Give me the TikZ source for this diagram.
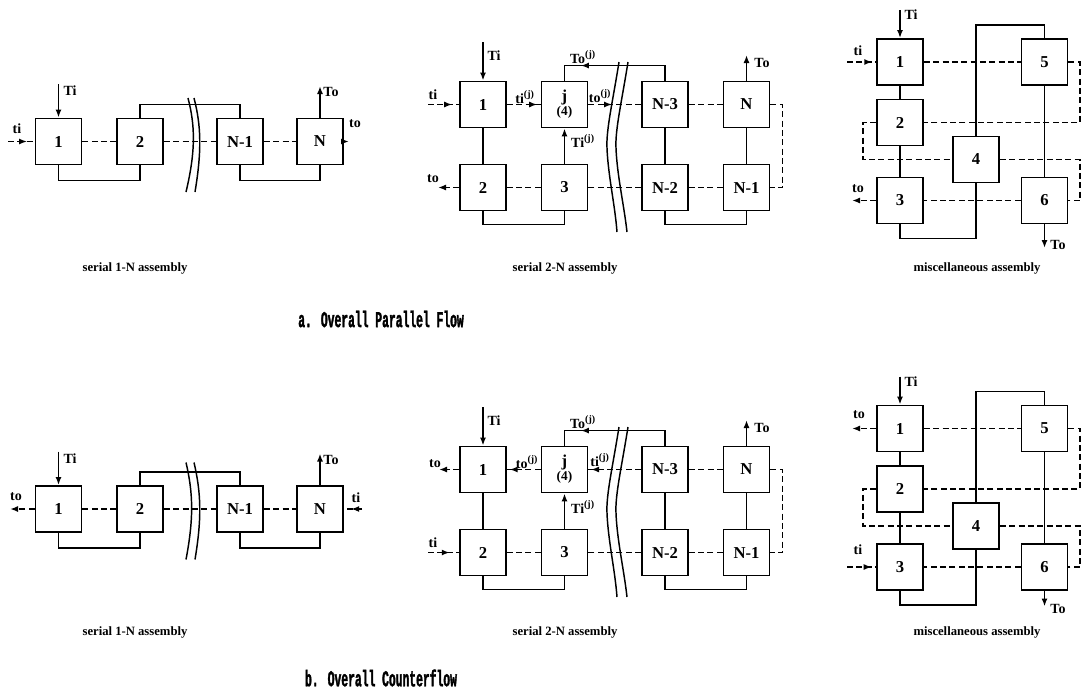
\documentclass[tikz,border=0pt]{standalone}
\usepackage{fontspec}
\setmainfont{Liberation Serif}
\newfontfamily\titlefont[FakeStretch=0.5,FakeBold=1.5]{Liberation Mono}
\usetikzlibrary{arrows.meta,decorations.markings}
\tikzset{
 box/.style={draw, line width=1.4pt, minimum width=34.5pt, minimum height=34.5pt, inner sep=0pt, align=center, font=\fontsize{12.5}{12.5}\selectfont\bfseries},
 sol/.style={line width=1.3pt},
 dsh/.style={line width=1.3pt, dash pattern=on 4.5pt off 2.5pt},
 tip/.style={-{Latex[length=6pt,width=4.5pt]}},
 markat/.style={postaction={decorate}, decoration={markings, mark=at position #1 with {\arrow{Latex[length=6pt,width=4.5pt]}}}},
 lab/.style={font=\fontsize{10.5}{10.5}\selectfont\bfseries, inner sep=0pt},
 captxt/.style={font=\fontsize{9.5}{10}\selectfont\bfseries},
 ttl/.style={font=\titlefont\bfseries\fontsize{17}{18}\selectfont, inner sep=0pt},
 brk/.style={line width=1.1pt},
}
\newcommand{\supj}[1]{\textbf{#1}\textsuperscript{\fontsize{7.5}{7.5}\selectfont(j)}}
\begin{document}
\begin{tikzpicture}[x=0.75pt,y=-0.75pt]
\useasboundingbox (0,0) rectangle (1082,693);

%%%%%%%%%%%%%%%%%%%% TOP ROW (a) %%%%%%%%%%%%%%%%%%%%
% ---- serial 1-N (a)
\node[box] (a1) at (58.5,141.5) {1};
\node[box] (a2) at (140,141.5) {2};
\node[box] (aN1) at (240,141.5) {N-1};
\node[box] (aN) at (320,141.5) {N};
\draw[dsh] (a1) -- (a2);
\draw[dsh] (a2) -- (aN1);
\draw[dsh] (aN1) -- (aN);
\draw[sol] (a1.south) -- ++(0,15) -| (a2.south);
\draw[sol] (a2.north) -- ++(0,-13) -| (aN1.north);
\draw[sol] (aN1.south) -- ++(0,15) -| (aN.south);
\draw[brk] (188,98) .. controls (195,125) and (196,150) .. (186,192);
\draw[brk] (194,98) .. controls (201,125) and (202,150) .. (195,192);
\coordinate (aTi) at (58.5,84);
\draw[sol,tip] (aTi) -- (a1.north);
\node[lab] at (70,91) {Ti};
\coordinate (aTo) at (320,86);
\draw[sol,tip] (aN.north) -- (aTo);
\node[lab] at (331,92) {To};
\coordinate (ati) at (8,141.5);
\draw[dsh,markat=0.72] (ati) -- (a1.west);
\node[lab] at (17,129) {ti};
\coordinate (ato) at (349,141.5);
\draw[dsh,tip] (aN.east) -- (ato);
\node[lab] at (355,124) {to};
\node[captxt] at (135,268) {serial 1-N assembly};

% ---- serial 2-N (a)
\node[box] (m1) at (483,104.5) {1};
\node[box] (mj) at (564.5,104.5) {j\\[-2pt]{\fontsize{10}{10}\selectfont(4)}};
\node[box] (mN3) at (665,104.5) {N-3};
\node[box] (mN) at (746.5,104.5) {N};
\node[box] (m2) at (483,187.5) {2};
\node[box] (m3) at (564.5,187.5) {3};
\node[box] (mN2) at (665,187.5) {N-2};
\node[box] (mN1) at (746.5,187.5) {N-1};
\draw[sol] (m1) -- (m2);
\draw[sol] (mN3) -- (mN2);
\draw[sol] (mN) -- (mN1);
\draw[sol,tip] (m3.north) -- (mj.south);
\draw[sol,markat=0.76] (mN3.north) -- ++(0,-15) -| (mj.north);
\draw[sol] (m2.south) -- ++(0,13) -| (m3.south);
\draw[sol] (mN2.south) -- ++(0,13) -| (mN1.south);
\draw[dsh,markat=0.9] (m1) -- (mj);
\draw[dsh,markat=0.45] (mj) -- (mN3);
\draw[dsh] (mN3) -- (mN);
\draw[dsh] (mN.east) -- ++(12,0) |- (mN1.east);
\draw[dsh] (mN1) -- (mN2);
\draw[dsh] (mN2) -- (m3);
\draw[dsh] (m3) -- (m2);
\coordinate (mto) at (438,187.5);
\draw[dsh,tip] (m2.west) -- (mto);
\coordinate (mti) at (428,104.5);
\draw[dsh,markat=0.78] (mti) -- (m1.west);
\coordinate (mTi) at (483,42);
\draw[sol,tip] (mTi) -- (m1.north);
\coordinate (mTo) at (746.5,55);
\draw[sol,tip] (mN.north) -- (mTo);
\draw[brk] (619,62) .. controls (613,100) and (606,130) .. (607,148) .. controls (608,175) and (615,205) .. (617,232);
\draw[brk] (628,62) .. controls (622,100) and (615,130) .. (616,148) .. controls (617,175) and (624,205) .. (627,232);
\node[lab] at (494,56) {Ti};
\node[lab] at (762,63) {To};
\node[lab] at (433,95) {ti};
\node[lab] at (433,179) {to};
\node[lab] at (525,97) {\supj{ti}};
\node[lab] at (600,96) {\supj{to}};
\node[lab] at (583,141) {\supj{Ti}};
\node[lab] at (583,57) {\supj{To}};
\node[captxt] at (565,268) {serial 2-N assembly};

% ---- miscellaneous (a)
\node[box] (r1) at (900,62) {1};
\node[box] (r2) at (900,122.5) {2};
\node[box] (r3) at (900,200.5) {3};
\node[box] (r4) at (976,159.5) {4};
\node[box] (r5) at (1044.5,62) {5};
\node[box] (r6) at (1044.5,200.5) {6};
\draw[sol] (r1) -- (r2);
\draw[sol] (r2) -- (r3);
\draw[sol] (r5) -- (r6);
\draw[sol] (r4.north) -- ++(0,-110.5) -| (r5.north);
\draw[sol] (r4.south) -- ++(0,55) -| (r3.south);
\draw[dsh] (r1) -- (r5);
\draw[dsh] (r5.east) -- ++(11.5,0) |- (r2.east);
\draw[dsh] (r2.west) -- ++(-13,0) |- (r4.west);
\draw[dsh] (r4.east) -- ++(80,0) |- (r6.east);
\draw[dsh] (r6) -- (r3);
\coordinate (rto) at (852,200.5);
\draw[dsh,tip] (r3.west) -- (rto);
\coordinate (rti) at (847,62);
\draw[dsh,markat=0.87] (rti) -- (r1.west);
\coordinate (rTi) at (900,10);
\draw[sol,tip] (rTi) -- (r1.north);
\coordinate (rTo) at (1044.5,248);
\draw[sol,tip] (r6.south) -- (rTo);
\node[lab] at (911,15) {Ti};
\node[lab] at (858,51) {ti};
\node[lab] at (858,189) {to};
\node[lab] at (1058,245) {To};
\node[captxt] at (977,268) {miscellaneous assembly};

\node[ttl] at (381,319) {a. Overall Parallel Flow};

%%%%%%%%%%%%%%%%%%%% BOTTOM ROW (b) %%%%%%%%%%%%%%%%%%%%
\begin{scope}[shift={(0,367.5)}]
\node[box] (b1) at (58.5,141.5) {1};
\node[box] (b2) at (140,141.5) {2};
\node[box] (bN1) at (240,141.5) {N-1};
\node[box] (bN) at (320,141.5) {N};
\draw[dsh] (b1) -- (b2);
\draw[dsh] (b2) -- (bN1);
\draw[dsh] (bN1) -- (bN);
\draw[sol] (b1.south) -- ++(0,15) -| (b2.south);
\draw[sol] (b2.north) -- ++(0,-13) -| (bN1.north);
\draw[sol] (bN1.south) -- ++(0,15) -| (bN.south);
\draw[brk] (186,95) .. controls (193,125) and (194,150) .. (186,192);
\draw[brk] (194,95) .. controls (201,125) and (202,150) .. (195,192);
\coordinate (bTi) at (58.5,84);
\draw[sol,tip] (bTi) -- (b1.north);
\node[lab] at (70,91) {Ti};
\coordinate (bTo) at (320,86);
\draw[sol,tip] (bN.north) -- (bTo);
\node[lab] at (331,92) {To};
\coordinate (bto) at (10,141.5);
\draw[dsh,tip] (b1.west) -- (bto);
\node[lab] at (16,129.5) {to};
\coordinate (bti) at (362,141.5);
\draw[dsh,markat=0.6] (bti) -- (bN.east);
\node[lab] at (356,130.5) {ti};
\node[captxt] at (135,264.5) {serial 1-N assembly};
\end{scope}

\begin{scope}[shift={(0,365)}]
\node[box] (n1) at (483,104.5) {1};
\node[box] (nj) at (564.5,104.5) {j\\[-2pt]{\fontsize{10}{10}\selectfont(4)}};
\node[box] (nN3) at (665,104.5) {N-3};
\node[box] (nN) at (746.5,104.5) {N};
\node[box] (n2) at (483,187.5) {2};
\node[box] (n3) at (564.5,187.5) {3};
\node[box] (nN2) at (665,187.5) {N-2};
\node[box] (nN1) at (746.5,187.5) {N-1};
\draw[sol] (n1) -- (n2);
\draw[sol] (nN3) -- (nN2);
\draw[sol] (nN) -- (nN1);
\draw[sol,tip] (n3.north) -- (nj.south);
\draw[sol,markat=0.76] (nN3.north) -- ++(0,-15) -| (nj.north);
\draw[sol] (n2.south) -- ++(0,13) -| (n3.south);
\draw[sol] (nN2.south) -- ++(0,13) -| (nN1.south);
\draw[dsh,markat=0.92] (nj) -- (n1);
\draw[dsh,markat=0.95] (nN3) -- (nj);
\draw[dsh] (nN3) -- (nN);
\draw[dsh] (nN.east) -- ++(12,0) |- (nN1.east);
\draw[dsh] (nN1) -- (nN2);
\draw[dsh] (nN2) -- (n3);
\draw[dsh] (n3) -- (n2);
\coordinate (nto) at (439,104.5);
\draw[dsh,tip] (n1.west) -- (nto);
\coordinate (nti) at (428,187.5);
\draw[dsh,markat=0.7] (nti) -- (n2.west);
\coordinate (nTi) at (483,42);
\draw[sol,tip] (nTi) -- (n1.north);
\coordinate (nTo) at (746.5,55);
\draw[sol,tip] (nN.north) -- (nTo);
\draw[brk] (619,62) .. controls (613,100) and (606,130) .. (607,148) .. controls (608,175) and (615,205) .. (617,232);
\draw[brk] (628,62) .. controls (622,100) and (615,130) .. (616,148) .. controls (617,175) and (624,205) .. (627,232);
\node[lab] at (494,56) {Ti};
\node[lab] at (762,63) {To};
\node[lab] at (435,99) {to};
\node[lab] at (433,178) {ti};
\node[lab] at (527,97) {\supj{to}};
\node[lab] at (600,95) {\supj{ti}};
\node[lab] at (583,142) {\supj{Ti}};
\node[lab] at (583,57) {\supj{To}};
\node[captxt] at (565,267) {serial 2-N assembly};
\end{scope}

\begin{scope}[shift={(0,366.5)}]
\node[box] (s1) at (900,62) {1};
\node[box] (s2) at (900,122.5) {2};
\node[box] (s3) at (900,200.5) {3};
\node[box] (s4) at (976,159.5) {4};
\node[box] (s5) at (1044.5,62) {5};
\node[box] (s6) at (1044.5,200.5) {6};
\draw[sol] (s1) -- (s2);
\draw[sol] (s2) -- (s3);
\draw[sol] (s5) -- (s6);
\draw[sol] (s4.north) -- ++(0,-110.5) -| (s5.north);
\draw[sol] (s4.south) -- ++(0,55) -| (s3.south);
\draw[dsh] (s1) -- (s5);
\draw[dsh] (s5.east) -- ++(11.5,0) |- (s2.east);
\draw[dsh] (s2.west) -- ++(-13,0) |- (s4.west);
\draw[dsh] (s4.east) -- ++(80,0) |- (s6.east);
\draw[dsh] (s6) -- (s3);
\coordinate (sto) at (852,62);
\draw[dsh,tip] (s1.west) -- (sto);
\coordinate (sti) at (847,200.5);
\draw[dsh,markat=0.85] (sti) -- (s3.west);
\coordinate (sTi) at (900,10);
\draw[sol,tip] (sTi) -- (s1.north);
\coordinate (sTo) at (1044.5,240);
\draw[sol,tip] (s6.south) -- (sTo);
\node[lab] at (911,15) {Ti};
\node[lab] at (859,48.5) {to};
\node[lab] at (858,183.5) {ti};
\node[lab] at (1058,242) {To};
\node[captxt] at (977,265.5) {miscellaneous assembly};
\end{scope}

\node[ttl] at (381,678) {b. Overall Counterflow};
\end{tikzpicture}
\end{document}
